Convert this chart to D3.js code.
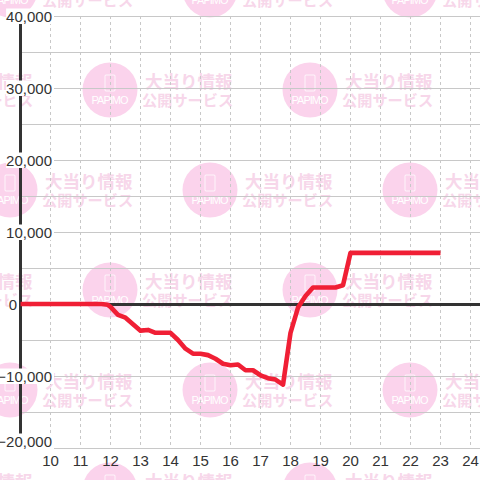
<!DOCTYPE html>
<html>
<head>
<meta charset="utf-8">
<script src="https://cdn.jsdelivr.net/npm/d3@7"></script>
<style>
  html, body { margin: 0; padding: 0; background: #fff; }
  svg { display: block; }
  text { font-family: "Liberation Sans", Arial, sans-serif; }
</style>
</head>
<body>
<svg width="480" height="480"></svg>
<script>
const hours = [10, 11, 12, 13, 14, 15, 16, 17, 18, 19, 20, 21, 22, 23, 24];
const yLabels = [40000, 30000, 20000, 10000, 0, -10000, -20000];
const yGrid = [40000, 35000, 30000, 25000, 20000, 15000, 10000, 5000, 0, -5000, -10000, -15000, -20000];

// time in hours, balance
const times = [9.0, 11.7, 11.9, 12.0, 12.25, 12.5, 12.75, 13.0, 13.25, 13.5, 14.0, 14.25, 14.5, 14.75, 15.0, 15.25, 15.5, 15.75, 16.0, 16.25, 16.5, 16.75, 17.0, 17.25, 17.5, 17.75, 18.0, 18.25, 18.5, 18.75, 19.0, 19.25, 19.5, 19.75, 20.0, 23.0];
const values = [0, 0, -100, -400, -1500, -1900, -2800, -3700, -3600, -4000, -4000, -5000, -6200, -6900, -6900, -7100, -7600, -8300, -8500, -8400, -9200, -9200, -9900, -10300, -10500, -11200, -4000, -500, 1100, 2300, 2300, 2300, 2300, 2600, 7100, 7100];

const svg = d3.select("svg");
const x = d3.scaleLinear().domain([10, 24]).range([50.5, 470.5]);
const y = d3.scaleLinear().domain([40000, -20000]).range([16, 448]);

// watermark, staggered 400x200 tile
const markRows = [-10, 90, 190, 290, 390, 490];
const markG = svg.append("g");
markRows.forEach((cy, r) => {
  const start = r % 2 === 0 ? 10 : 110;
  [start - 200, start, start + 200, start + 400].forEach(cx => {
    const g = markG.append("g").attr("transform", `translate(${cx},${cy})`);
    g.append("circle").attr("r", 27.5).attr("fill", "#fbd3ec");
    g.append("rect").attr("x", -5).attr("y", -15).attr("width", 10).attr("height", 16)
      .attr("rx", 1).attr("fill", "none").attr("stroke", "#fff").attr("stroke-width", 0.8);
    g.append("text").attr("y", 14).attr("x", -18.5)
      .attr("fill", "#fff").attr("font-size", 11)
      .style("font-family", "'Liberation Sans Narrow', 'Liberation Sans'")
      .attr("textLength", 37).attr("lengthAdjust", "spacing").text("PAPIMO");
    g.append("text").attr("x", 35).attr("y", -2)
      .attr("fill", "#f7d7ea").attr("font-size", 17.5).attr("font-weight", "bold")
      .style("font-family", "'Noto Sans CJK JP'").text("大当り情報");
    g.append("text").attr("x", 32).attr("y", 16)
      .attr("fill", "#f7d7ea").attr("font-size", 15.2).attr("font-weight", "bold")
      .style("font-family", "'Noto Sans CJK JP'").text("公開サービス");
  });
});

const gridG = svg.append("g");
gridG.selectAll("line.h").data(yGrid).enter().append("line")
  .attr("class", "h")
  .attr("x1", 20).attr("x2", 480)
  .attr("y1", d => y(d) + 0.5).attr("y2", d => y(d) + 0.5)
  .attr("stroke", "#c8c8c8").attr("stroke-width", 1);
gridG.selectAll("line.v").data(hours).enter().append("line")
  .attr("class", "v")
  .attr("x1", d => x(d)).attr("x2", d => x(d))
  .attr("y1", 16).attr("y2", 448)
  .attr("stroke", "#c8c8c8").attr("stroke-width", 1).attr("stroke-dasharray", "3,3");

// y axis and zero line
svg.append("line").attr("x1", 20.5).attr("x2", 20.5).attr("y1", 16).attr("y2", 448)
  .attr("stroke", "#333").attr("stroke-width", 3);
svg.append("line").attr("x1", 20).attr("x2", 480).attr("y1", y(0) + 0.5).attr("y2", y(0) + 0.5)
  .attr("stroke", "#333").attr("stroke-width", 3);

// y labels with white backing, lowest one sits above its line, 0 stays left of the axis
const labelG = svg.append("g");
yLabels.forEach(v => {
  const cy = v === -20000 ? y(v) - 7 : y(v);
  const t = labelG.append("text")
    .attr("x", v === 0 ? 17 : 52).attr("y", cy + 5.5)
    .attr("text-anchor", "end").attr("font-size", 15).attr("fill", "#333")
    .text(d3.format(",")(v));
  const b = t.node().getBBox();
  labelG.insert("rect", "text").attr("x", b.x).attr("y", cy - 7.5)
    .attr("width", b.width + 2).attr("height", 15.5).attr("fill", "#fff");
});

svg.append("g").selectAll("text").data(hours).enter().append("text")
  .attr("x", d => x(d)).attr("y", 466)
  .attr("text-anchor", "middle").attr("font-size", 15).attr("fill", "#333")
  .text(d => d);

const line = d3.line()
  .x((d, i) => x(times[i]))
  .y(d => y(d));

svg.append("path")
  .attr("d", line(values))
  .attr("fill", "none")
  .attr("stroke", "#f01f35")
  .attr("stroke-width", 4.6)
  .attr("stroke-linejoin", "round");
</script>
</body>
</html>
